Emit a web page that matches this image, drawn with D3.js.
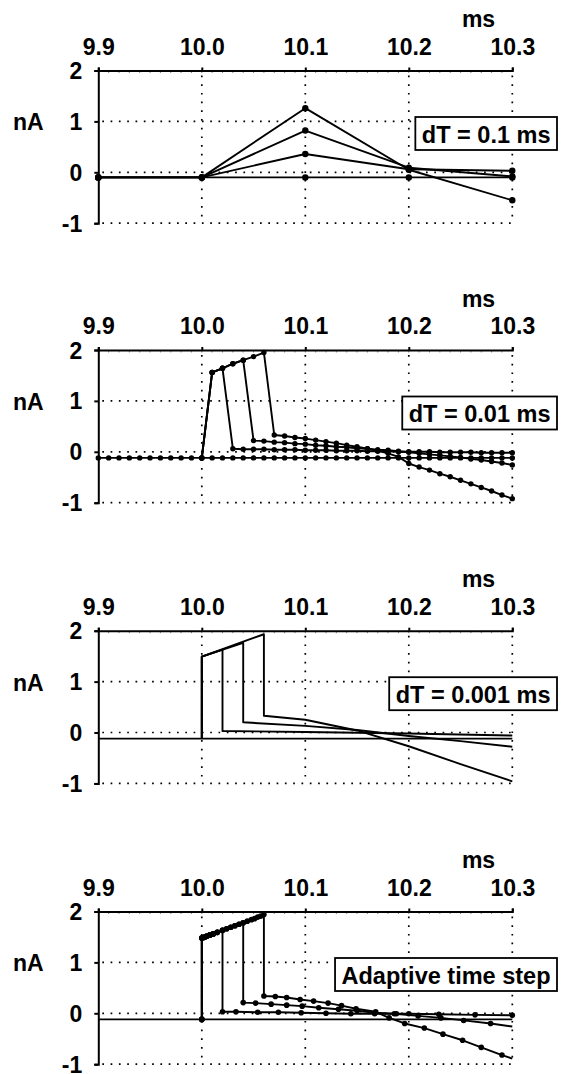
<!DOCTYPE html>
<html>
<head>
<meta charset="utf-8">
<script src="https://cdn.jsdelivr.net/npm/d3@7"></script>
<style>
  body { margin: 0; background: #fff; }
  svg { display: block; font-family: "Liberation Sans", Arial, Helvetica, sans-serif; font-weight: bold; }
</style>
</head>
<body>
<svg id="chart"></svg>
<script>
// Tick values shared by all four panels
let xTicks = [9.9, 10.0, 10.1, 10.2, 10.3];
let yTicks = [-1, 0, 1, 2];
let panelLabels = ['dT = 0.1 ms', 'dT = 0.01 ms', 'dT = 0.001 ms', 'Adaptive time step'];

// Panel 1: dT = 0.1 ms
let t1 = [9.9, 10.0, 10.1, 10.2, 10.3];
let p1Base = [-0.1, -0.1, -0.1, -0.1, -0.1];
let p1Short = [-0.1, -0.1, 0.36, 0.06, 0.03];
let p1Mid = [-0.1, -0.1, 0.82, 0.09, -0.08];
let p1Long = [-0.1, -0.1, 1.26, 0.05, -0.55];

// Panel 2: dT = 0.01 ms
let t2 = [9.90, 9.91, 9.92, 9.93, 9.94, 9.95, 9.96, 9.97, 9.98, 9.99,
          10.00, 10.01, 10.02, 10.03, 10.04, 10.05, 10.06, 10.07, 10.08, 10.09,
          10.10, 10.11, 10.12, 10.13, 10.14, 10.15, 10.16, 10.17, 10.18, 10.19,
          10.20, 10.21, 10.22, 10.23, 10.24, 10.25, 10.26, 10.27, 10.28, 10.29, 10.30];
let p2Base = [-0.12, -0.12, -0.12, -0.12, -0.12, -0.12, -0.12, -0.12, -0.12, -0.12,
              -0.12, -0.12, -0.12, -0.12, -0.12, -0.12, -0.12, -0.12, -0.12, -0.12,
              -0.12, -0.12, -0.12, -0.12, -0.12, -0.12, -0.12, -0.12, -0.12, -0.12,
              -0.12, -0.12, -0.12, -0.12, -0.12, -0.12, -0.12, -0.12, -0.12, -0.12, -0.12];
// pulse series start at 10.00
let p2Short = [-0.12, 1.56, 1.64, 0.06, 0.05, 0.05, 0.05, 0.04, 0.04, 0.04,
               0.03, 0.03, 0.03, 0.02, 0.02, 0.02, 0.01, 0.01, 0.01, 0.00,
               0.00, 0.00, 0.00, -0.01, -0.01, -0.01, -0.01, -0.02, -0.02, -0.02, -0.02];
let p2Mid = [-0.12, 1.56, 1.64, 1.73, 1.80, 0.22, 0.21, 0.19, 0.18, 0.16,
             0.15, 0.13, 0.12, 0.10, 0.09, 0.07, 0.06, 0.04, 0.03, 0.01,
             -0.01, -0.03, -0.05, -0.07, -0.09, -0.11, -0.14, -0.16, -0.19, -0.22, -0.26];
let p2Long = [-0.12, 1.56, 1.64, 1.73, 1.80, 1.87, 1.95, 0.33, 0.31, 0.28,
              0.26, 0.23, 0.20, 0.17, 0.13, 0.10, 0.06, 0.02, -0.03, -0.10,
              -0.23, -0.30, -0.36, -0.43, -0.49, -0.56, -0.63, -0.70, -0.77, -0.85, -0.92];

// Panel 3: dT = 0.001 ms (drawn as lines only)
let t3Base = [9.9, 10.3];
let p3Base = [-0.12, -0.12];
let t3Short = [10.0, 10.0, 10.02, 10.02, 10.1, 10.2, 10.3];
let p3Short = [-0.12, 1.49, 1.63, 0.03, 0.01, -0.02, -0.06];
let t3Mid = [10.0, 10.0, 10.04, 10.04, 10.1, 10.15, 10.2, 10.25, 10.3];
let p3Mid = [-0.12, 1.49, 1.76, 0.20, 0.13, 0.05, -0.07, -0.17, -0.28];
let t3Long = [10.0, 10.0, 10.06, 10.06, 10.1, 10.15, 10.2, 10.25, 10.3];
let p3Long = [-0.12, 1.49, 1.93, 0.33, 0.25, 0.04, -0.27, -0.62, -0.96];

// Panel 4: adaptive time step
let t4Base = [9.9, 10.3];
let p4Base = [-0.12, -0.12];
let t4Short = [10.0, 10.0, 10.0015, 10.003, 10.005, 10.008, 10.011, 10.015, 10.02,
               10.02, 10.033, 10.054, 10.074, 10.096, 10.12, 10.144, 10.167, 10.188, 10.2,
               10.229, 10.264, 10.3];
let p4Short = [-0.12, 1.48, 1.49, 1.50, 1.52, 1.54, 1.56, 1.59, 1.63,
               0.03, 0.03, 0.02, 0.02, 0.01, 0.0, -0.01, -0.01, -0.01, -0.01,
               -0.02, -0.03, -0.04];
let t4Mid = [10.0, 10.0, 10.0015, 10.003, 10.005, 10.008, 10.011, 10.015, 10.02,
             10.024, 10.028, 10.032, 10.036, 10.04,
             10.04, 10.052, 10.067, 10.082, 10.097, 10.113, 10.132, 10.15, 10.167, 10.186,
             10.209, 10.231, 10.253, 10.279, 10.3];
let p4Mid = [-0.12, 1.48, 1.49, 1.50, 1.52, 1.54, 1.56, 1.59, 1.63,
             1.66, 1.69, 1.72, 1.75, 1.78,
             0.21, 0.20, 0.18, 0.16, 0.14, 0.11, 0.08, 0.05, 0.01, -0.01,
             -0.05, -0.09, -0.14, -0.20, -0.26];
let t4Long = [10.0, 10.0, 10.0015, 10.003, 10.005, 10.008, 10.011, 10.015, 10.02,
              10.024, 10.028, 10.032, 10.036, 10.04,
              10.044, 10.048, 10.051, 10.054, 10.057, 10.06,
              10.06, 10.071, 10.082, 10.095, 10.108, 10.122, 10.135, 10.149, 10.168, 10.181,
              10.196, 10.215, 10.233, 10.252, 10.27, 10.29, 10.3];
let p4Long = [-0.12, 1.48, 1.49, 1.50, 1.52, 1.54, 1.56, 1.59, 1.63,
              1.66, 1.69, 1.72, 1.75, 1.78,
              1.81, 1.84, 1.86, 1.89, 1.91, 1.94,
              0.34, 0.33, 0.31, 0.27, 0.24, 0.20, 0.15, 0.09, 0.03, -0.09,
              -0.20, -0.29, -0.41, -0.53, -0.67, -0.82, -0.89];
// whether the last point of each adaptive series has a dot
let p4EndDot = [true, false, false];

// Layout
let width = 562, height = 1074;
let panelTops = [70.5, 350, 630.7, 911.5];
let plotH = 152.7;

let svg = d3.select('#chart').attr('width', width).attr('height', height);

let x = d3.scaleLinear().domain([9.9, 10.3]).range([98.3, 512.3]);

function zip(ts, vs) {
    return ts.map((t, i) => ({ t: t, v: vs[i] }));
}

// Draws frame, grid, axes and unit labels of one panel, returns its y scale
function drawFrame(i) {
    let top = panelTops[i];
    let y = d3.scaleLinear().domain([-1, 2]).range([top + plotH, top]);
    let g = svg.append('g');

    // dotted grid
    g.selectAll('.hgrid')
        .data([1, 0, -1])
        .enter()
        .append('line')
        .attr('x1', x(9.9) + 4).attr('x2', x(10.3))
        .attr('y1', d => y(d)).attr('y2', d => y(d))
        .attr('stroke', '#000').attr('stroke-width', 1.7)
        .attr('stroke-dasharray', '1.7,6.6');
    g.selectAll('.vgrid')
        .data([10.0, 10.1, 10.2, 10.3])
        .enter()
        .append('line')
        .attr('x1', d => x(d)).attr('x2', d => x(d))
        .attr('y1', y(2) + 5).attr('y2', y(-1))
        .attr('stroke', '#000').attr('stroke-width', 1.7)
        .attr('stroke-dasharray', '1.7,7');

    // small minor ticks under the top axis line
    g.selectAll('.minor')
        .data(d3.range(1, 40))
        .enter()
        .append('line')
        .attr('x1', d => x(9.9 + d * 0.01)).attr('x2', d => x(9.9 + d * 0.01))
        .attr('y1', y(2)).attr('y2', y(2) + 2.5)
        .attr('stroke', '#888').attr('stroke-width', 1);

    // top axis
    let top_axis = g.append('g')
        .attr('transform', `translate(0,${y(2)})`)
        .call(d3.axisTop(x).tickValues(xTicks).tickFormat(d3.format('.1f'))
            .tickSizeInner(3).tickSizeOuter(3).tickPadding(13));
    // left axis
    let left_axis = g.append('g')
        .attr('transform', `translate(${x(9.9)},0)`)
        .call(d3.axisLeft(y).tickValues(yTicks).tickFormat(d => String(d))
            .tickSizeInner(4).tickSizeOuter(4).tickPadding(12));

    [top_axis, left_axis].forEach(a => {
        a.select('.domain').attr('stroke', '#000').attr('stroke-width', 2);
        a.selectAll('.tick line').attr('stroke', '#000').attr('stroke-width', 2);
        a.selectAll('.tick text')
            .attr('fill', '#000')
            .style('font-size', '23px')
            .style('font-family', '"Liberation Sans", Arial, Helvetica, sans-serif')
            .style('font-weight', 'bold');
    });
    left_axis.selectAll('.tick text').attr('dy', '0.35em');

    // unit labels
    g.append('text')
        .attr('x', 478.5).attr('y', y(2) - 43.5)
        .attr('text-anchor', 'middle')
        .style('font-size', '23px')
        .text('ms');
    g.append('text')
        .attr('x', 13).attr('y', y(1) + 9)
        .style('font-size', '23px')
        .text('nA');

    return { g: g, y: y };
}

// Boxed label at the right of a panel
function drawLabel(g, y, text) {
    let top = y(2) + 46.5;
    let label = g.append('text')
        .attr('x', 550.5).attr('y', top + 25.5)
        .attr('text-anchor', 'end')
        .style('font-size', '23.5px')
        .text(text);
    let box = label.node().getBBox();
    g.insert('rect', () => label.node())
        .attr('x', box.x - 6.5).attr('y', top)
        .attr('width', box.width + 13).attr('height', 33)
        .attr('fill', '#fff').attr('stroke', '#000').attr('stroke-width', 1.8);
}

function drawSeries(g, y, data, withDots, r, endDot) {
    let line = d3.line().x(d => x(d.t)).y(d => y(d.v));
    g.append('path')
        .datum(data)
        .attr('d', line)
        .attr('fill', 'none')
        .attr('stroke', '#000')
        .attr('stroke-width', 1.9)
        .attr('stroke-linejoin', 'round');
    if (withDots) {
        let pts = endDot === false ? data.slice(0, -1) : data;
        g.selectAll(null)
            .data(pts)
            .enter()
            .append('circle')
            .attr('cx', d => x(d.t))
            .attr('cy', d => y(d.v))
            .attr('r', r)
            .attr('fill', '#000');
    }
}

// Panel 1
let f1 = drawFrame(0);
[p1Base, p1Short, p1Mid, p1Long].forEach(v => drawSeries(f1.g, f1.y, zip(t1, v), true, 3.2));
drawLabel(f1.g, f1.y, panelLabels[0]);

// Panel 2
let f2 = drawFrame(1);
drawSeries(f2.g, f2.y, zip(t2, p2Base), true, 2.7);
[p2Short, p2Mid, p2Long].forEach(v => drawSeries(f2.g, f2.y, zip(t2.slice(10), v), true, 2.7));
drawLabel(f2.g, f2.y, panelLabels[1]);

// Panel 3
let f3 = drawFrame(2);
drawSeries(f3.g, f3.y, zip(t3Base, p3Base), false);
drawSeries(f3.g, f3.y, zip(t3Short, p3Short), false);
drawSeries(f3.g, f3.y, zip(t3Mid, p3Mid), false);
drawSeries(f3.g, f3.y, zip(t3Long, p3Long), false);
drawLabel(f3.g, f3.y, panelLabels[2]);

// Panel 4
let f4 = drawFrame(3);
drawSeries(f4.g, f4.y, zip(t4Base, p4Base), false);
drawSeries(f4.g, f4.y, zip(t4Short, p4Short), true, 2.8, p4EndDot[0]);
drawSeries(f4.g, f4.y, zip(t4Mid, p4Mid), true, 2.8, p4EndDot[1]);
drawSeries(f4.g, f4.y, zip(t4Long, p4Long), true, 2.8, p4EndDot[2]);
drawLabel(f4.g, f4.y, panelLabels[3]);
</script>
</body>
</html>
